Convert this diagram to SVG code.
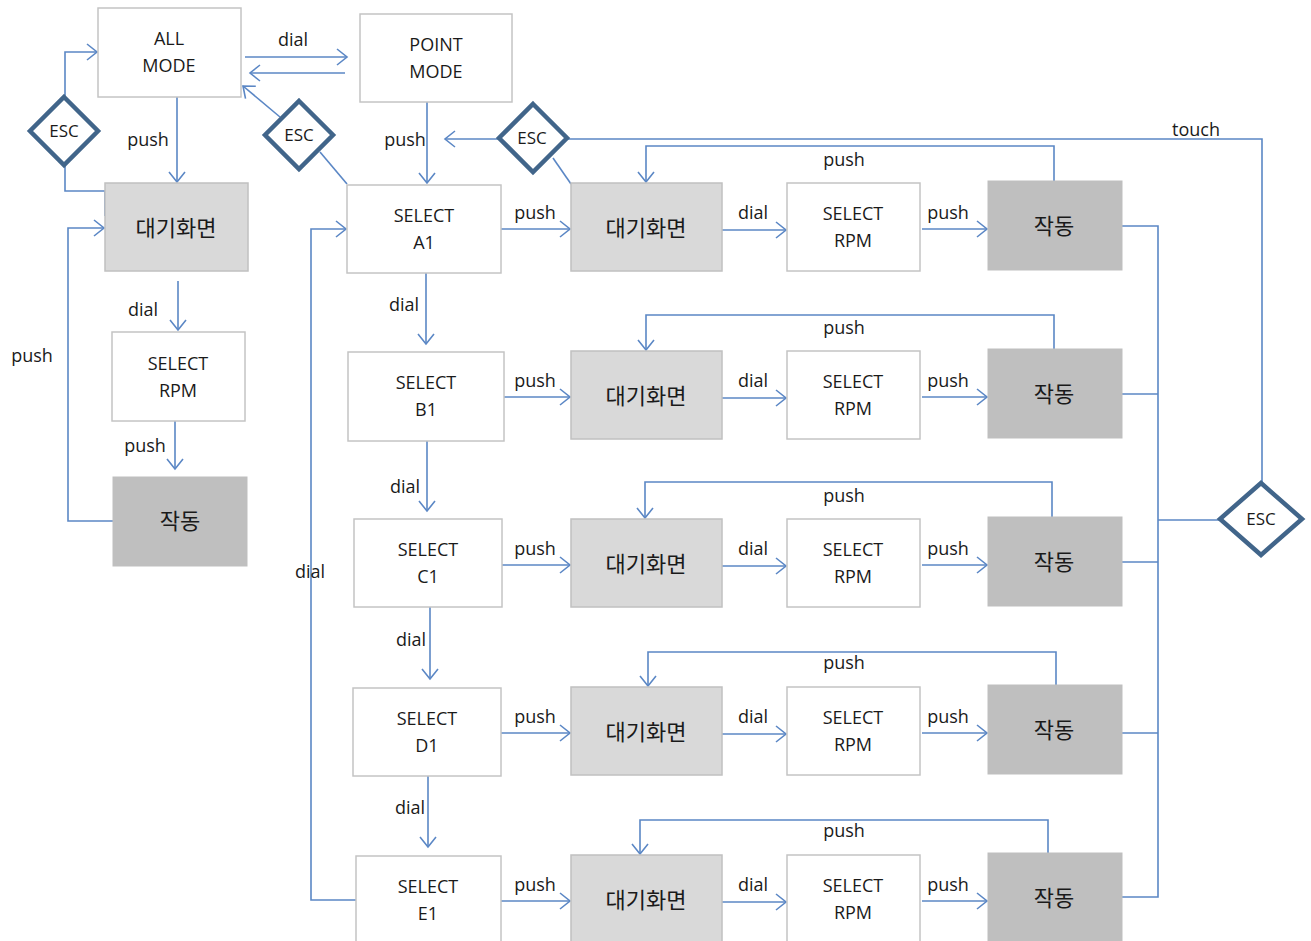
<svg xmlns="http://www.w3.org/2000/svg" width="1311" height="941" viewBox="0 0 1311 941">
<style>
.box{fill:#fff;stroke:#c4c4c4;stroke-width:1.5}
.wait{fill:#d9d9d9;stroke:#c0c0c0;stroke-width:1.5}
.run{fill:#bfbfbf;stroke:#bfbfbf;stroke-width:1}
.esc{fill:#fff;stroke:#41658a;stroke-width:4.5}
.t{font-family:"Open Sans","Liberation Sans","Noto Sans CJK KR",sans-serif;font-size:18px;fill:#1a1a1a;text-anchor:middle}
.k{font-family:"Noto Sans CJK KR",sans-serif;font-size:22px;fill:#1a1a1a;text-anchor:middle}
.l{font-family:"Open Sans","Liberation Sans",sans-serif;font-size:18px;fill:#1a1a1a;text-anchor:middle}
.e{font-family:"Open Sans","Liberation Sans",sans-serif;font-size:17px;fill:#1a1a1a;text-anchor:middle}
.c{fill:none;stroke:#5b87c5;stroke-width:1.6}
</style>
<defs>
<marker id="a" markerUnits="userSpaceOnUse" markerWidth="14" markerHeight="18" refX="11" refY="9" orient="auto">
<path d="M1,1 L11,9 L1,17" fill="none" stroke="#5b87c5" stroke-width="1.6"/>
</marker>
</defs>
<rect width="1311" height="941" fill="#fff"/>

<g id="connectors">
<path class="c" d="M245,57 H347" marker-end="url(#a)"/>
<path class="c" d="M345,73 H250" marker-end="url(#a)"/>
<path class="c" d="M65,97 V52 H97" marker-end="url(#a)"/>
<path class="c" d="M65,165 V191 H105 V216"/>
<path class="c" d="M177,97 V182" marker-end="url(#a)"/>
<path class="c" d="M280,117 L243,86" marker-end="url(#a)"/>
<path class="c" d="M320,152 L347,184"/>
<path class="c" d="M427,102 V183" marker-end="url(#a)"/>
<path class="c" d="M499,139 H445" marker-end="url(#a)"/>
<path class="c" d="M567,139 H1262 V482"/>
<path class="c" d="M553,158 L571,184"/>
<path class="c" d="M178,281 V330" marker-end="url(#a)"/>
<path class="c" d="M175,421 V469" marker-end="url(#a)"/>
<path class="c" d="M113,521 H68 V228 H104" marker-end="url(#a)"/>
<path class="c" d="M426,273 V344" marker-end="url(#a)"/>
<path class="c" d="M427,441 V511" marker-end="url(#a)"/>
<path class="c" d="M430,607 V679" marker-end="url(#a)"/>
<path class="c" d="M428,776 V847" marker-end="url(#a)"/>
<path class="c" d="M356,900 H311 V229 H346" marker-end="url(#a)"/>

<path class="c" d="M501,229 H570" marker-end="url(#a)"/>
<path class="c" d="M722,230 H786" marker-end="url(#a)"/>
<path class="c" d="M922,229 H987" marker-end="url(#a)"/>
<path class="c" d="M1054,181 V146 H646 V182" marker-end="url(#a)"/>

<path class="c" d="M504,397 H570" marker-end="url(#a)"/>
<path class="c" d="M722,398 H786" marker-end="url(#a)"/>
<path class="c" d="M922,397 H987" marker-end="url(#a)"/>
<path class="c" d="M1054,349 V315 H646 V350" marker-end="url(#a)"/>

<path class="c" d="M502,565 H570" marker-end="url(#a)"/>
<path class="c" d="M722,566 H786" marker-end="url(#a)"/>
<path class="c" d="M922,565 H987" marker-end="url(#a)"/>
<path class="c" d="M1052,517 V482 H645 V518" marker-end="url(#a)"/>

<path class="c" d="M501,733 H570" marker-end="url(#a)"/>
<path class="c" d="M722,734 H786" marker-end="url(#a)"/>
<path class="c" d="M922,733 H987" marker-end="url(#a)"/>
<path class="c" d="M1056,685 V652 H648 V686" marker-end="url(#a)"/>

<path class="c" d="M501,901 H570" marker-end="url(#a)"/>
<path class="c" d="M722,902 H786" marker-end="url(#a)"/>
<path class="c" d="M922,901 H987" marker-end="url(#a)"/>
<path class="c" d="M1048,853 V820 H640 V854" marker-end="url(#a)"/>

<path class="c" d="M1122,226 H1158 V897 H1122"/>
<path class="c" d="M1122,394 H1158"/>
<path class="c" d="M1122,562 H1158"/>
<path class="c" d="M1122,733 H1158"/>
<path class="c" d="M1158,520 H1220"/>
</g>

<g id="labels">
<text class="l" x="293" y="46">dial</text>
<text class="l" x="148" y="146">push</text>
<text class="l" x="405" y="146">push</text>
<text class="l" x="1196" y="136">touch</text>
<text class="l" x="143" y="316">dial</text>
<text class="l" x="145" y="452">push</text>
<text class="l" x="32" y="362">push</text>
<text class="l" x="404" y="311">dial</text>
<text class="l" x="405" y="493">dial</text>
<text class="l" x="411" y="646">dial</text>
<text class="l" x="410" y="814">dial</text>
<text class="l" x="310" y="578">dial</text>
<text class="l" x="535" y="219">push</text><text class="l" x="753" y="219">dial</text><text class="l" x="948" y="219">push</text><text class="l" x="844" y="166">push</text>
<text class="l" x="535" y="387">push</text><text class="l" x="753" y="387">dial</text><text class="l" x="948" y="387">push</text><text class="l" x="844" y="334">push</text>
<text class="l" x="535" y="555">push</text><text class="l" x="753" y="555">dial</text><text class="l" x="948" y="555">push</text><text class="l" x="844" y="502">push</text>
<text class="l" x="535" y="723">push</text><text class="l" x="753" y="723">dial</text><text class="l" x="948" y="723">push</text><text class="l" x="844" y="669">push</text>
<text class="l" x="535" y="891">push</text><text class="l" x="753" y="891">dial</text><text class="l" x="948" y="891">push</text><text class="l" x="844" y="837">push</text>
</g>

<g id="all-mode"><rect class="box" x="98" y="8" width="143" height="89"/><text class="t" x="169" y="45">ALL</text><text class="t" x="169" y="72">MODE</text></g>
<g id="point-mode"><rect class="box" x="360" y="14" width="152" height="88"/><text class="t" x="436" y="51">POINT</text><text class="t" x="436" y="78">MODE</text></g>
<g id="esc-1"><polygon class="esc" points="64,97 98,131 64,165 30,131"/><text class="e" x="64" y="137">ESC</text></g>
<g id="esc-2"><polygon class="esc" points="299,101 333,135 299,169 265,135"/><text class="e" x="299" y="141">ESC</text></g>
<g id="esc-3"><polygon class="esc" points="533,104 567,138 533,172 499,138"/><text class="e" x="532" y="144">ESC</text></g>
<g id="esc-4"><polygon class="esc" points="1261,483 1302,519 1261,555 1220,519"/><text class="e" x="1261" y="525">ESC</text></g>

<g id="wait-left"><rect class="wait" x="105" y="183" width="143" height="88"/><text class="k" x="176" y="236">대기화면</text></g>
<g id="rpm-left"><rect class="box" x="112" y="332" width="133" height="89"/><text class="t" x="178" y="370">SELECT</text><text class="t" x="178" y="397">RPM</text></g>
<g id="run-left"><rect class="run" x="113" y="477" width="134" height="89"/><text class="k" x="180" y="529">작동</text></g>

<g id="select-a1"><rect class="box" x="347" y="185" width="154" height="88"/><text class="t" x="424" y="222">SELECT</text><text class="t" x="424" y="249">A1</text></g>
<g id="select-b1"><rect class="box" x="348" y="352" width="156" height="89"/><text class="t" x="426" y="389">SELECT</text><text class="t" x="426" y="416">B1</text></g>
<g id="select-c1"><rect class="box" x="354" y="519" width="148" height="88"/><text class="t" x="428" y="556">SELECT</text><text class="t" x="428" y="583">C1</text></g>
<g id="select-d1"><rect class="box" x="353" y="688" width="148" height="88"/><text class="t" x="427" y="725">SELECT</text><text class="t" x="427" y="752">D1</text></g>
<g id="select-e1"><rect class="box" x="356" y="856" width="145" height="90"/><text class="t" x="428" y="893">SELECT</text><text class="t" x="428" y="920">E1</text></g>

<g id="wait-1"><rect class="wait" x="571" y="183" width="151" height="88"/><text class="k" x="646" y="236">대기화면</text></g>
<g id="rpm-1"><rect class="box" x="787" y="183" width="133" height="88"/><text class="t" x="853" y="220">SELECT</text><text class="t" x="853" y="247">RPM</text></g>
<g id="run-1"><rect class="run" x="988" y="181" width="134" height="89"/><text class="k" x="1054" y="234">작동</text></g>

<g id="wait-2"><rect class="wait" x="571" y="351" width="151" height="88"/><text class="k" x="646" y="404">대기화면</text></g>
<g id="rpm-2"><rect class="box" x="787" y="351" width="133" height="88"/><text class="t" x="853" y="388">SELECT</text><text class="t" x="853" y="415">RPM</text></g>
<g id="run-2"><rect class="run" x="988" y="349" width="134" height="89"/><text class="k" x="1054" y="402">작동</text></g>

<g id="wait-3"><rect class="wait" x="571" y="519" width="151" height="88"/><text class="k" x="646" y="572">대기화면</text></g>
<g id="rpm-3"><rect class="box" x="787" y="519" width="133" height="88"/><text class="t" x="853" y="556">SELECT</text><text class="t" x="853" y="583">RPM</text></g>
<g id="run-3"><rect class="run" x="988" y="517" width="134" height="89"/><text class="k" x="1054" y="570">작동</text></g>

<g id="wait-4"><rect class="wait" x="571" y="687" width="151" height="88"/><text class="k" x="646" y="740">대기화면</text></g>
<g id="rpm-4"><rect class="box" x="787" y="687" width="133" height="88"/><text class="t" x="853" y="724">SELECT</text><text class="t" x="853" y="751">RPM</text></g>
<g id="run-4"><rect class="run" x="988" y="685" width="134" height="89"/><text class="k" x="1054" y="738">작동</text></g>

<g id="wait-5"><rect class="wait" x="571" y="855" width="151" height="90"/><text class="k" x="646" y="908">대기화면</text></g>
<g id="rpm-5"><rect class="box" x="787" y="855" width="133" height="90"/><text class="t" x="853" y="892">SELECT</text><text class="t" x="853" y="919">RPM</text></g>
<g id="run-5"><rect class="run" x="988" y="853" width="134" height="90"/><text class="k" x="1054" y="906">작동</text></g>
</svg>
